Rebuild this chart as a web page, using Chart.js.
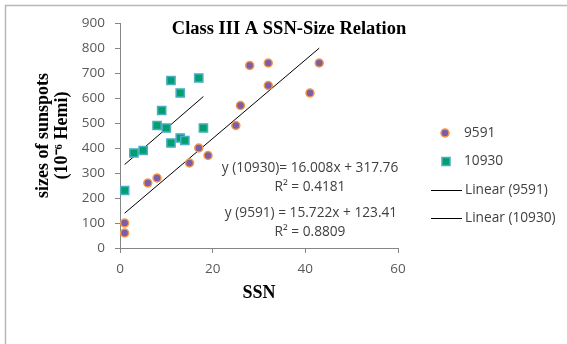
<!DOCTYPE html>
<html>
<head>
<meta charset="utf-8">
<script src="https://cdn.jsdelivr.net/npm/chart.js@4"></script>
<style>
  html, body { margin: 0; padding: 0; background: #fff; }
  #wrap { width: 567px; height: 344px; position: relative; }
</style>
</head>
<body>
<div id="wrap"><canvas id="c"></canvas></div>
<script>
// data
const ssn9591 = [1, 1, 6, 8, 15, 17, 19, 25, 26, 28, 32, 32, 41, 43];
const size9591 = [100, 60, 260, 280, 340, 400, 370, 490, 570, 730, 740, 650, 620, 740];
const ssn10930 = [1, 3, 5, 8, 9, 10, 11, 11, 13, 13, 14, 17, 18];
const size10930 = [230, 380, 390, 490, 550, 480, 670, 420, 620, 440, 430, 680, 480];

// trendline equations as printed on the chart
const fit9591 = [15.722, 123.41, 0.8809];
const fit10930 = [16.008, 317.76, 0.4181];

const xTicks = [0, 20, 40, 60];
const yTicks = [0, 100, 200, 300, 400, 500, 600, 700, 800, 900];

const toPoints = (xs, ys) => xs.map((x, i) => ({ x: x, y: ys[i] }));
const trend = (xs, fit) => {
  const lo = Math.min(...xs), hi = Math.max(...xs);
  return [{ x: lo, y: fit[0] * lo + fit[1] }, { x: hi, y: fit[0] * hi + fit[1] }];
};

const sansFont = "'Open Sans', 'Liberation Sans', sans-serif";
const serifFont = "'Liberation Serif', 'Times New Roman', serif";

// title, equations, legend and the frame are painted on top
const overlay = {
  id: 'overlay',
  afterDraw(chart) {
    const ctx = chart.ctx;
    ctx.save();

    // frame (only top and left edges show)
    ctx.strokeStyle = '#b8b8b8';
    ctx.lineWidth = 1.5;
    ctx.beginPath();
    ctx.moveTo(5.5, 344);
    ctx.lineTo(5.5, 5.5);
    ctx.lineTo(567, 5.5);
    ctx.stroke();

    // title
    ctx.fillStyle = '#000';
    ctx.font = 'bold 18.5px ' + serifFont;
    ctx.textAlign = 'center';
    ctx.textBaseline = 'middle';
    ctx.fillText('Class III A SSN-Size Relation', 289, 29);

    // equations
    ctx.fillStyle = '#404040';
    ctx.font = '13.7px ' + sansFont;
    const f = (v, d) => v.toFixed(d);
    ctx.fillText('y (10930)= ' + f(fit10930[0], 3) + 'x + ' + f(fit10930[1], 2), 310, 168);
    ctx.fillText('R\u00b2 = ' + f(fit10930[2], 4), 310, 187);
    ctx.fillText('y (9591) = ' + f(fit9591[0], 3) + 'x + ' + f(fit9591[1], 2), 311, 213);
    ctx.fillText('R\u00b2 = ' + f(fit9591[2], 4), 310, 232);

    // legend
    const ds = chart.data.datasets;
    ctx.textAlign = 'left';
    ctx.lineWidth = 1.5;
    // circle
    ctx.beginPath();
    ctx.arc(445, 133, 4, 0, Math.PI * 2);
    ctx.fillStyle = ds[0].backgroundColor;
    ctx.fill();
    ctx.strokeStyle = ds[0].borderColor;
    ctx.stroke();
    // square
    ctx.fillStyle = ds[1].backgroundColor;
    ctx.fillRect(442, 157.5, 8, 8);
    ctx.strokeStyle = ds[1].borderColor;
    ctx.strokeRect(442, 157.5, 8, 8);
    // lines
    ctx.strokeStyle = '#000';
    ctx.lineWidth = 1;
    [190, 218].forEach(y => {
      ctx.beginPath();
      ctx.moveTo(431, y + 0.5);
      ctx.lineTo(462, y + 0.5);
      ctx.stroke();
    });
    ctx.fillStyle = '#404040';
    ctx.fillText(ds[0].label, 464, 133);
    ctx.fillText(ds[1].label, 464, 161);
    ctx.fillText(ds[2].label, 465, 190);
    ctx.fillText(ds[3].label, 465, 218);

    ctx.restore();
  }
};

new Chart('c', {
  type: 'scatter',
  data: {
    datasets: [
      {
        label: '9591',
        data: toPoints(ssn9591, size9591),
        pointStyle: 'circle',
        pointRadius: 4,
        pointHoverRadius: 4,
        backgroundColor: '#7b5ea7',
        borderColor: '#f79646',
        borderWidth: 1.5
      },
      {
        label: '10930',
        data: toPoints(ssn10930, size10930),
        pointStyle: 'rect',
        pointRadius: 5.8,
        pointHoverRadius: 5.8,
        backgroundColor: '#00a06a',
        borderColor: '#4bacc6',
        borderWidth: 1.5
      },
      {
        label: 'Linear (9591)',
        type: 'line',
        data: trend(ssn9591, fit9591),
        borderColor: '#000',
        borderWidth: 1,
        pointRadius: 0,
        fill: false
      },
      {
        label: 'Linear (10930)',
        type: 'line',
        data: trend(ssn10930, fit10930),
        borderColor: '#000',
        borderWidth: 1,
        pointRadius: 0,
        fill: false
      }
    ]
  },
  options: {
    responsive: true,
    maintainAspectRatio: false,
    animation: false,
    layout: { padding: { left: 33, right: 169, top: 23, bottom: 40 } },
    plugins: {
      legend: { display: false },
      title: { display: false },
      tooltip: { enabled: false }
    },
    scales: {
      x: {
        type: 'linear',
        min: 0,
        max: 60,
        afterBuildTicks: s => { s.ticks = xTicks.map(v => ({ value: v })); },
        afterFit: s => { s.height = 56; },
        grid: { drawOnChartArea: false, color: '#868686', tickLength: 5 },
        border: { color: '#868686' },
        ticks: { color: '#595959', font: { family: sansFont, size: 13.5 }, padding: 8 },
        title: {
          display: true,
          text: 'SSN',
          color: '#000',
          font: { family: serifFont, size: 18, weight: 'bold', lineHeight: 1.1 },
          padding: { top: 0, bottom: 1 }
        }
      },
      y: {
        type: 'linear',
        min: 0,
        max: 900,
        afterBuildTicks: s => { s.ticks = yTicks.map(v => ({ value: v })); },
        afterFit: s => { s.width = 87; },
        grid: { drawOnChartArea: false, color: '#868686', tickLength: 5 },
        border: { color: '#868686' },
        ticks: { color: '#595959', font: { family: sansFont, size: 13.5 }, padding: 10 },
        title: {
          display: true,
          text: ['sizes of sunspots', '(10\u207b\u2076 Hemi)'],
          color: '#000',
          font: { family: serifFont, size: 18, weight: 'bold', lineHeight: 1.1 },
          padding: { top: 0, bottom: 0 }
        }
      }
    }
  },
  plugins: [overlay]
});
</script>
</body>
</html>
